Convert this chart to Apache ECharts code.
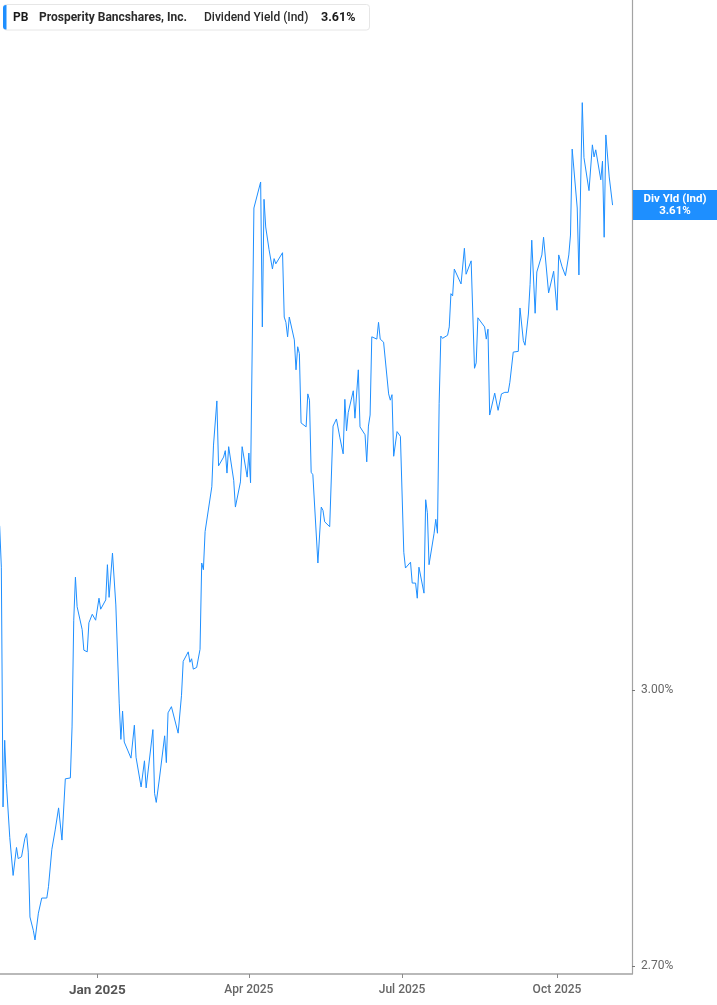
<!DOCTYPE html>
<html>
<head>
<meta charset="utf-8">
<script src="https://cdn.jsdelivr.net/npm/echarts@6/dist/echarts.min.js"></script>
<style>
html,body{margin:0;padding:0;background:#fff;}
#chart{width:717px;height:1005px;}
</style>
</head>
<body>
<div id="chart"></div>
<script>
// ---- data ----
const dates = [
'2024-11-04','2024-11-05','2024-11-06','2024-11-07','2024-11-08','2024-11-10','2024-11-12','2024-11-13','2024-11-14','2024-11-15',
'2024-11-17','2024-11-19','2024-11-20','2024-11-21','2024-11-22','2024-11-24','2024-11-25','2024-11-27','2024-11-29','2024-12-02',
'2024-12-03','2024-12-04','2024-12-05','2024-12-07','2024-12-09','2024-12-11','2024-12-13','2024-12-16','2024-12-17','2024-12-18',
'2024-12-19','2024-12-20','2024-12-23','2024-12-24','2024-12-26','2024-12-27','2024-12-29','2024-12-31','2025-01-02','2025-01-03',
'2025-01-06','2025-01-07','2025-01-08','2025-01-10','2025-01-12','2025-01-14','2025-01-15','2025-01-16','2025-01-17','2025-01-19',
'2025-01-21','2025-01-23','2025-01-24','2025-01-27','2025-01-29','2025-01-30','2025-02-03','2025-02-04','2025-02-05','2025-02-07',
'2025-02-10','2025-02-11','2025-02-12','2025-02-14','2025-02-18','2025-02-20','2025-02-21','2025-02-24','2025-02-25','2025-02-26',
'2025-02-27','2025-03-01','2025-03-03','2025-03-04','2025-03-05','2025-03-06','2025-03-07','2025-03-10','2025-03-11','2025-03-13',
'2025-03-14','2025-03-17','2025-03-18','2025-03-19','2025-03-20','2025-03-21','2025-03-23','2025-03-24','2025-03-27','2025-03-28',
'2025-03-31','2025-04-01','2025-04-02','2025-04-04','2025-04-08','2025-04-09','2025-04-10','2025-04-11','2025-04-13','2025-04-15',
'2025-04-16','2025-04-17','2025-04-21','2025-04-22','2025-04-23','2025-04-24','2025-04-25','2025-04-28','2025-04-29','2025-04-30',
'2025-05-01','2025-05-02','2025-05-05','2025-05-06','2025-05-07','2025-05-08','2025-05-09','2025-05-12','2025-05-14','2025-05-15',
'2025-05-16','2025-05-19','2025-05-20','2025-05-21','2025-05-23','2025-05-25','2025-05-27','2025-05-28','2025-05-29','2025-05-30',
'2025-06-02','2025-06-03','2025-06-05','2025-06-06','2025-06-09','2025-06-10','2025-06-11','2025-06-12','2025-06-13','2025-06-16',
'2025-06-17','2025-06-18','2025-06-20','2025-06-23','2025-06-24','2025-06-25','2025-06-26','2025-06-28','2025-06-30','2025-07-02',
'2025-07-03','2025-07-06','2025-07-07','2025-07-09','2025-07-10','2025-07-11','2025-07-14','2025-07-15','2025-07-16','2025-07-17',
'2025-07-18','2025-07-20','2025-07-21','2025-07-22','2025-07-23','2025-07-24','2025-07-25','2025-07-28','2025-07-29','2025-07-30',
'2025-07-31','2025-08-01','2025-08-05','2025-08-07','2025-08-08','2025-08-11','2025-08-13','2025-08-14','2025-08-15','2025-08-19',
'2025-08-20','2025-08-21','2025-08-22','2025-08-25','2025-08-27','2025-08-29','2025-08-31','2025-09-02','2025-09-03','2025-09-04',
'2025-09-05','2025-09-08','2025-09-09','2025-09-11','2025-09-12','2025-09-14','2025-09-15','2025-09-16','2025-09-18','2025-09-19',
'2025-09-22','2025-09-23','2025-09-26','2025-09-29','2025-10-01','2025-10-02','2025-10-04','2025-10-06','2025-10-08','2025-10-09',
'2025-10-10','2025-10-13','2025-10-14','2025-10-16','2025-10-17','2025-10-20','2025-10-22','2025-10-23','2025-10-24','2025-10-27',
'2025-10-28','2025-10-29','2025-10-30','2025-11-01','2025-11-03'
];
const yieldPct = [
3.194,3.144,2.869,2.943,2.895,2.836,2.795,2.797,2.825,2.813,
2.815,2.835,2.840,2.820,2.751,2.737,2.727,2.755,2.771,2.771,
2.783,2.784,2.823,2.844,2.868,2.833,2.900,2.901,2.958,3.081,
3.132,3.097,3.070,3.046,3.044,3.078,3.088,3.081,3.107,3.094,
3.105,3.147,3.108,3.161,3.099,2.985,2.944,2.976,2.941,2.932,
2.923,2.960,2.924,2.891,2.920,2.890,2.955,2.884,2.874,2.902,
2.948,2.918,2.974,2.981,2.951,2.994,3.033,3.044,3.032,3.036,
3.024,3.026,3.047,3.149,3.141,3.187,3.189,3.242,3.294,3.350,
3.268,3.279,3.287,3.259,3.292,3.292,3.250,3.217,3.248,3.292,
3.254,3.284,3.247,3.606,3.642,3.446,3.618,3.580,3.549,3.523,
3.537,3.530,3.545,3.459,3.452,3.433,3.459,3.429,3.390,3.420,
3.411,3.322,3.317,3.359,3.351,3.260,3.257,3.149,3.217,3.213,
3.199,3.193,3.191,3.318,3.327,3.304,3.283,3.352,3.312,3.335,
3.363,3.328,3.390,3.317,3.307,3.273,3.318,3.332,3.433,3.430,
3.452,3.430,3.426,3.359,3.351,3.358,3.280,3.311,3.305,3.162,
3.143,3.150,3.125,3.125,3.107,3.144,3.113,3.226,3.210,3.147,
3.149,3.185,3.202,3.185,3.347,3.434,3.431,3.435,3.446,3.490,
3.487,3.523,3.503,3.551,3.516,3.534,3.392,3.399,3.458,3.446,
3.430,3.443,3.332,3.360,3.338,3.359,3.361,3.361,3.374,3.374,
3.413,3.414,3.471,3.428,3.422,3.463,3.502,3.562,3.464,3.519,
3.542,3.566,3.491,3.520,3.468,3.542,3.526,3.514,3.542,3.569,
3.688,3.606,3.515,3.754,3.676,3.630,3.694,3.677,3.687,3.645,
3.671,3.566,3.708,3.649,3.61
];
const xTickDates = ['2025-01-01','2025-04-01','2025-07-01','2025-10-01'];
const yTickValues = [2.7, 3.0];
const xMinStr = '2024-11-04 05:00', xMaxStr = '2025-11-14 12:40';
const yMin = 2.6918, yMax = 3.904;
const lastValue = yieldPct[yieldPct.length - 1];

const BLUE = '#1e8fff';
const AXIS = '#a3a3a3';
const FONT = 'Roboto, "Noto Sans", sans-serif';
const monthNames = ['Jan','Feb','Mar','Apr','May','Jun','Jul','Aug','Sep','Oct','Nov','Dec'];

const ts = s => echarts.time.parse(s).getTime();
const xMin = ts(xMinStr), xMax = ts(xMaxStr);
const xTickTs = xTickDates.map(ts);
const yTickLn = yTickValues.map(v => Math.log(v));

const gridRect = {left: 0, right: 85, top: 0, bottom: 31, containLabel: false, outerBoundsMode: 'none'};

const chart = echarts.init(document.getElementById('chart'), null, {renderer: 'canvas'});
chart.setOption({
  animation: false,
  backgroundColor: '#fff',
  textStyle: {fontFamily: FONT},
  grid: [Object.assign({}, gridRect), Object.assign({}, gridRect)],
  xAxis: [
    { // data axis (time)
      type: 'time', gridIndex: 0, min: xMinStr, max: xMaxStr,
      axisLine: {show: true, lineStyle: {color: AXIS, width: 1.5}},
      axisTick: {show: false}, axisLabel: {show: false}, splitLine: {show: false}
    },
    { // label axis: same span, quarterly labels
      type: 'value', gridIndex: 1, min: xMin, max: xMax,
      axisLine: {show: false}, splitLine: {show: false},
      axisTick: {show: true, customValues: xTickTs, length: 4, lineStyle: {color: '#8a8a8a', width: 1}},
      axisLabel: {
        customValues: xTickTs,
        margin: 10,
        formatter: function (v) {
          const d = new Date(v);
          const s = monthNames[d.getMonth()] + ' ' + d.getFullYear();
          return d.getMonth() === 0 ? '{b|' + s + '}' : '{n|' + s + '}';
        },
        rich: {
          b: {fontSize: 13.5, fontWeight: 'bold', color: '#555', fontFamily: FONT},
          n: {fontSize: 12, fontWeight: 500, color: '#666', fontFamily: FONT}
        }
      }
    }
  ],
  yAxis: [
    { // data axis (log)
      type: 'log', logBase: 10, gridIndex: 0, position: 'right', min: yMin, max: yMax,
      axisLine: {show: true, lineStyle: {color: AXIS, width: 1.2}},
      axisTick: {show: false}, axisLabel: {show: false}, splitLine: {show: false}
    },
    { // label axis: ln of the log axis span
      type: 'value', gridIndex: 1, position: 'right', min: Math.log(yMin), max: Math.log(yMax),
      axisLine: {show: false}, splitLine: {show: false},
      axisTick: {show: true, customValues: yTickLn, length: 3, lineStyle: {color: '#777', width: 1}},
      axisLabel: {
        customValues: yTickLn, margin: 9, color: '#666', fontSize: 12, fontFamily: FONT,
        formatter: v => Math.exp(v).toFixed(2) + '%'
      }
    }
  ],
  graphic: [
    {type: 'rect', shape: {x: 3.5, y: 4.5, width: 366, height: 25.5, r: 3},
     style: {fill: '#fff', stroke: '#e6e6e6', lineWidth: 1}, z: 100},
    {type: 'rect', shape: {x: 3, y: 5, width: 3.5, height: 24.5, r: [3, 0, 0, 3]},
     style: {fill: BLUE}, z: 101},
    {type: 'text', x: 13, y: 17.5, z: 102,
     style: {text: 'PB', fill: '#1a1a1a', fontSize: 12, fontWeight: 'bold', fontFamily: FONT, verticalAlign: 'middle'}},
    {type: 'text', x: 39, y: 17.5, z: 102,
     style: {text: 'Prosperity Bancshares, Inc.', fill: '#2a2a2a', fontSize: 12, fontWeight: 'bold', fontFamily: FONT, verticalAlign: 'middle'}},
    {type: 'text', x: 204, y: 17.5, z: 102,
     style: {text: 'Dividend Yield (Ind)', fill: '#2a2a2a', fontSize: 12, fontWeight: 500, fontFamily: FONT, verticalAlign: 'middle'}},
    {type: 'text', x: 321, y: 17.5, z: 102,
     style: {text: lastValue.toFixed(2) + '%', fill: '#1a1a1a', fontSize: 12.5, fontWeight: 'bold', fontFamily: FONT, verticalAlign: 'middle'}}
  ],
  series: [{
    type: 'line',
    xAxisIndex: 0,
    yAxisIndex: 0,
    data: dates.map((d, i) => [d, yieldPct[i]]),
    showSymbol: false,
    symbol: 'none',
    clip: false,
    lineStyle: {color: BLUE, width: 1},
    markLine: {
      silent: true,
      animation: false,
      symbol: ['none', 'none'],
      lineStyle: {color: 'rgba(0,0,0,0)', width: 1, type: 'solid'},
      emphasis: {disabled: true},
      data: [{yAxis: lastValue, name: 'last'}],
      label: {
        show: true,
        position: 'end',
        distance: 1,
        opacity: 1,
        backgroundColor: BLUE,
        padding: [3, 8, 3, 8],
        formatter: '{a|Div Yld (Ind)}\n{a|' + lastValue.toFixed(2) + '%}',
        rich: {
          a: {color: '#fff', fontSize: 11.5, fontWeight: 'bold', lineHeight: 12, width: 68, align: 'center', fontFamily: FONT}
        }
      }
    }
  }]
});
</script>
</body>
</html>
